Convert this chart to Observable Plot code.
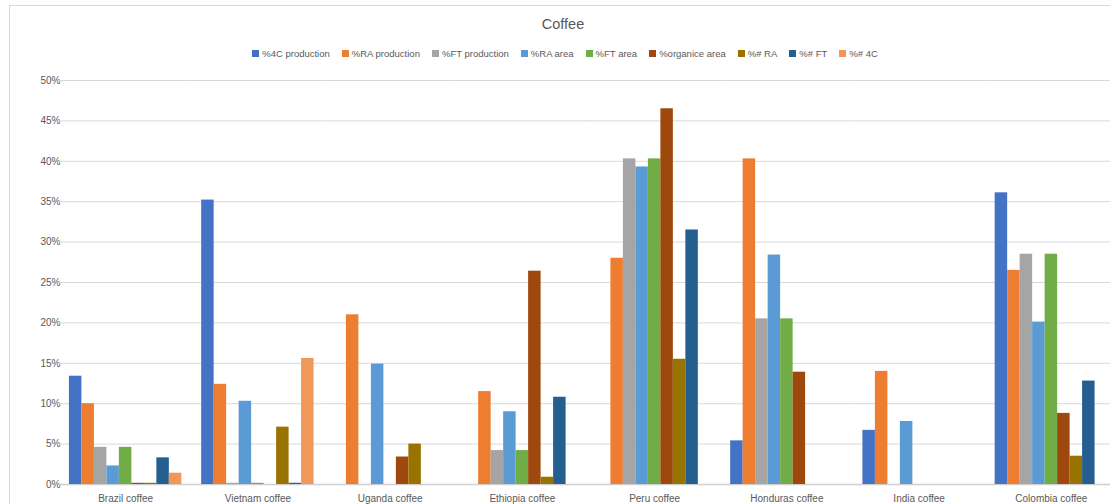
<!DOCTYPE html>
<html>
<head>
<meta charset="utf-8">
<script src="https://cdn.jsdelivr.net/npm/d3@7"></script>
<script src="https://cdn.jsdelivr.net/npm/@observablehq/plot@0.6"></script>
<style>
html,body{margin:0;padding:0;background:#fff;overflow:hidden;width:1110px;height:504px;position:relative}
#frame{position:absolute;left:9px;top:5px;width:1120px;height:520px;border-left:1px solid #d9d9d9;border-top:1px solid #d9d9d9;box-sizing:border-box}
#title{position:absolute;top:16px;left:0;width:1126px;text-align:center;font:14.5px "Liberation Sans",Arial,sans-serif;color:#595959}
#legend{position:absolute;top:48px;left:0;width:1130px;display:flex;justify-content:center;gap:12px;font:9.5px "Liberation Sans",Arial,sans-serif;color:#595959}
#legend .item{display:flex;align-items:center;white-space:nowrap}
#legend .sw{width:7px;height:7px;margin-right:3px;display:inline-block}
#chart{position:absolute;left:0;top:70px;width:1118px}
#chart svg{max-width:none !important}
</style>
</head>
<body>
<div id="frame"></div>
<div id="title">Coffee</div>
<div id="legend"></div>
<div id="chart"></div>
<script>
const categories = ["Brazil coffee","Vietnam coffee","Uganda coffee","Ethiopia coffee","Peru coffee","Honduras coffee","India coffee","Colombia coffee"];
const seriesNames = ["%4C production","%RA production","%FT production","%RA area","%FT area","%organice area","%# RA","%# FT","%# 4C"];
const colors = ["#4472C4","#ED7D31","#A5A5A5","#5B9BD5","#70AD47","#9E480E","#997300","#255E91","#F1975A"];

// values in percent, one array per series, ordered as categories
const pct4CProduction   = [13.4, 35.2, 0, 0, 0, 5.4, 6.7, 36.1];
const pctRAProduction   = [10.0, 12.4, 21.0, 11.5, 28.0, 40.3, 14.0, 26.5];
const pctFTProduction   = [4.6, 0.15, 0, 4.2, 40.3, 20.5, 0, 28.5];
const pctRAArea         = [2.3, 10.3, 14.9, 9.0, 39.3, 28.4, 7.8, 20.1];
const pctFTArea         = [4.6, 0.15, 0, 4.2, 40.3, 20.5, 0, 28.5];
const pctOrganicArea    = [0.15, 0, 3.4, 26.4, 46.5, 13.9, 0, 8.8];
const pctNumRA          = [0.15, 7.1, 5.0, 0.9, 15.5, 0, 0, 3.5];
const pctNumFT          = [3.3, 0.15, 0, 10.8, 31.5, 0, 0, 12.8];
const pctNum4C          = [1.4, 15.6, 0, 0, 0, 0, 0, 0];

const yTicks = [0,5,10,15,20,25,30,35,40,45,50];

const seriesValues = [pct4CProduction, pctRAProduction, pctFTProduction, pctRAArea, pctFTArea, pctOrganicArea, pctNumRA, pctNumFT, pctNum4C];
const table = categories.flatMap((c, i) => seriesNames.map((s, j) => ({category: c, series: s, value: seriesValues[j][i]})));

// legend
const legend = document.getElementById("legend");
seriesNames.forEach((s, j) => {
  const it = document.createElement("span");
  it.className = "item";
  const sw = document.createElement("span");
  sw.className = "sw";
  sw.style.background = colors[j];
  it.appendChild(sw);
  it.appendChild(document.createTextNode(s));
  legend.appendChild(it);
});

const chart = Plot.plot({
  width: 1118,
  height: 434,
  marginTop: 10,
  marginBottom: 20,
  marginLeft: 59,
  marginRight: 1,
  style: {fontFamily: "'Liberation Sans', Arial, sans-serif", fontSize: "10px", color: "#595959", background: "transparent", overflow: "visible", maxWidth: "none"},
  fx: {domain: categories, paddingInner: 0.15, paddingOuter: 0.075, round: false, label: null, axis: "bottom", tickSize: 0, tickPadding: 10},
  x: {domain: seriesNames, padding: 0, round: false, axis: null},
  y: {domain: [0, 50], ticks: yTicks, tickFormat: d => d + "%", label: null, tickSize: 0, tickPadding: 9},
  color: {domain: seriesNames, range: colors},
  marks: [
    Plot.gridY(yTicks, {stroke: "#d9d9d9", strokeOpacity: 1, insetLeft: -10, insetRight: -10}),
    Plot.ruleY([0], {stroke: "#cfcfcf", strokeWidth: 1.5, insetLeft: -10, insetRight: -10}),
    Plot.barY(table, {fx: "category", x: "series", y: "value", fill: "series"})
  ]
});
document.getElementById("chart").appendChild(chart);
</script>
</body>
</html>
